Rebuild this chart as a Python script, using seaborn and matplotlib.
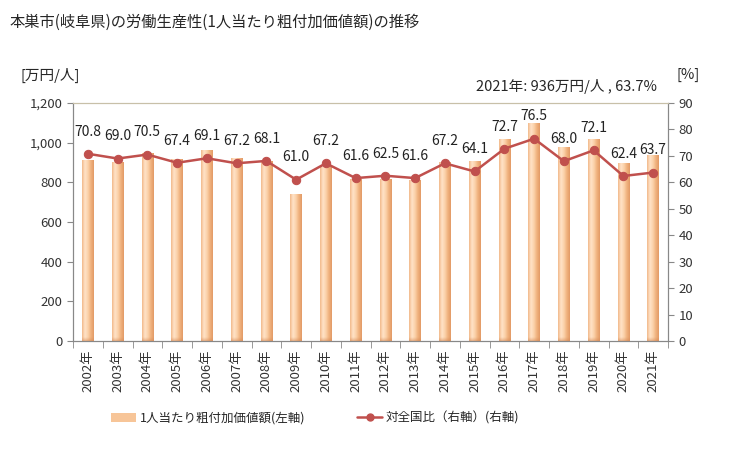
import numpy as np
import pandas as pd
import matplotlib
matplotlib.use("Agg")
import matplotlib.pyplot as plt
import seaborn as sns
from matplotlib.ticker import FuncFormatter, FixedLocator
from matplotlib.lines import Line2D
from matplotlib.patches import Patch
from matplotlib.colors import LinearSegmentedColormap

# data
years = [f"{y}年" for y in range(2002, 2022)]
value_added = [912, 902, 949, 916, 963, 923, 907, 740, 879, 815,
               818, 812, 904, 908, 1019, 1101, 978, 1019, 898, 936]
ratio = [70.8, 69.0, 70.5, 67.4, 69.1, 67.2, 68.1, 61.0, 67.2, 61.6,
         62.5, 61.6, 67.2, 64.1, 72.7, 76.5, 68.0, 72.1, 62.4, 63.7]

df = pd.DataFrame({"year": years, "value": value_added, "ratio": ratio})
df["pos"] = np.arange(len(df))

sns.set_style("white")
plt.rcParams['font.family'] = ['Noto Sans CJK JP', 'DejaVu Sans']

fig = plt.figure(figsize=(7.29, 4.5), dpi=100)
ax = fig.add_axes([73 / 729, 1 - 341 / 450, 595 / 729, 238 / 450])

bar_color = "#f7c598"
sns.barplot(data=df, x="year", y="value", color=bar_color, width=0.38,
            saturation=1, ax=ax, zorder=2)

# cylinder-like shading on each bar
grad = LinearSegmentedColormap.from_list(
    "bar", ["#f2b98a", "#ffe3c8", "#fbd2aa", "#f0b27e", "#e29a66"])
hgrad = np.linspace(0, 1, 64).reshape(1, -1)
foot_cmap = LinearSegmentedColormap.from_list(
    "foot", [(0.85, 0.55, 0.35, 0.0), (0.85, 0.55, 0.35, 0.55)])
for p in list(ax.patches):
    x0, w, h = p.get_x(), p.get_width(), p.get_height()
    im = ax.imshow(hgrad, cmap=grad, aspect="auto", extent=(x0, x0 + w, 0, h),
                   zorder=2.5, interpolation="bilinear")
    im.set_clip_path(p)
    p.set_edgecolor("none")
    foot = ax.imshow(np.linspace(0, 1, 16).reshape(-1, 1), cmap=foot_cmap,
                     aspect="auto", extent=(x0, x0 + w, 0, 18), zorder=2.6,
                     interpolation="bilinear")
    foot.set_clip_path(p)

ax.set_ylim(0, 1200)
ax.set_xlim(-0.5, len(df) - 0.5)
ax.set_yticks(range(0, 1201, 200))
ax.yaxis.set_major_formatter(FuncFormatter(lambda v, _: f"{int(v):,}"))
ax.set_xlabel("")
ax.set_ylabel("")
ax.tick_params(axis="x", rotation=90, labelsize=9.5, length=0, pad=6, labelcolor="#333333")
ax.tick_params(axis="y", labelsize=9.5, length=4, color="#888888", left=True, labelcolor="#333333")
ax.xaxis.set_minor_locator(FixedLocator(np.arange(-0.5, len(df), 1)))
ax.tick_params(axis="x", which="minor", length=5, color="#888888", bottom=True)

for side in ["left", "right", "bottom"]:
    ax.spines[side].set_color("#888888")
ax.spines["top"].set_color("#c8c0a8")

ax2 = ax.twinx()
line_color = "#c0504d"
sns.lineplot(data=df, x="pos", y="ratio", color=line_color, marker="o",
             markersize=6, markeredgecolor=line_color, linewidth=1.8, ax=ax2)
ax2.set_ylim(0, 90)
ax2.set_yticks(range(0, 91, 10))
ax2.set_ylabel("")
ax2.set_xlabel("")
ax2.tick_params(axis="y", labelsize=9.5, length=4, color="#888888", right=True, labelcolor="#333333")
for side in ["left", "right", "bottom"]:
    ax2.spines[side].set_color("#888888")
ax2.spines["top"].set_color("#c8c0a8")
ax2.set_xlim(-0.5, len(df) - 0.5)

for x, r in zip(df["pos"], df["ratio"]):
    ax2.annotate(f"{r:.1f}", (x, r), xytext=(0, 16), textcoords="offset points",
                 ha="center", va="center", fontsize=10, color="#222222")

fig.text(10 / 729, 1 - 22 / 450, "本巣市(岐阜県)の労働生産性(1人当たり粗付加価値額)の推移",
         fontsize=11, va="center", ha="left")
fig.text(20 / 729, 1 - 75 / 450, "[万円/人]", fontsize=10.5, va="center", ha="left")
fig.text(676 / 729, 1 - 75 / 450, "[%]", fontsize=10.5, va="center", ha="left")
fig.text(657 / 729, 1 - 87 / 450, "2021年: 936万円/人 , 63.7%", fontsize=10.5,
         va="center", ha="right")

# legend, two entries placed separately
leg1 = fig.legend([Patch(facecolor=bar_color, edgecolor="none")],
                  ["1人当たり粗付加価値額(左軸)"], loc="center left",
                  bbox_to_anchor=(100 / 729, 1 - 418 / 450), frameon=False,
                  fontsize=9, handlelength=2.0, handletextpad=0.3)
fig.legend([Line2D([0], [0], color=line_color, marker="o", markersize=5, linewidth=1.8)],
           ["対全国比（右軸）(右軸)"], loc="center left",
           bbox_to_anchor=(346 / 729, 1 - 418 / 450), frameon=False,
           fontsize=9, handlelength=2.0, handletextpad=0.3)

fig.savefig("out.png", dpi=100)
